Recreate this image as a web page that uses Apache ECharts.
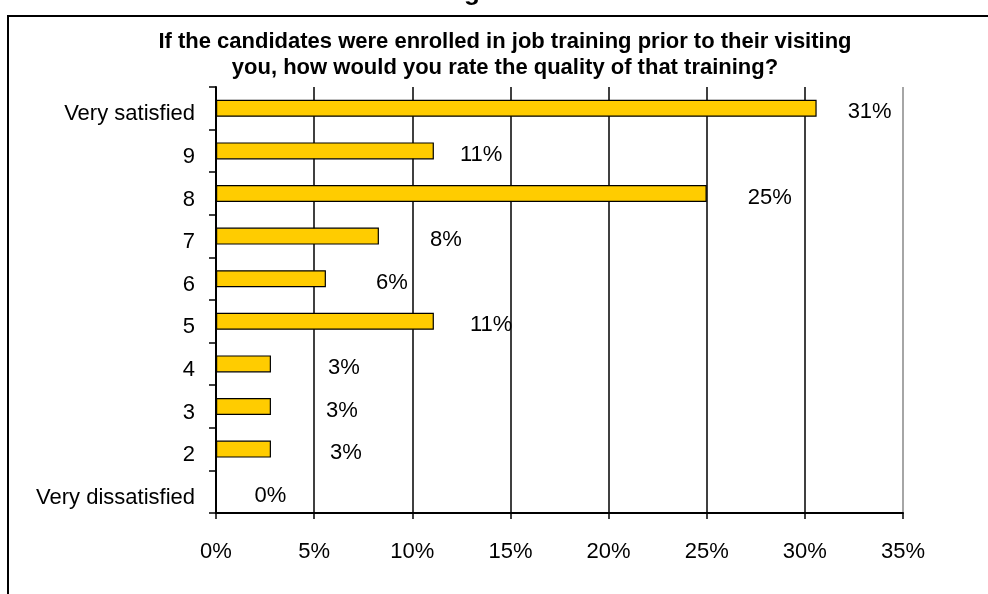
<!DOCTYPE html>
<html>
<head>
<meta charset="utf-8">
<style>
  html, body { margin: 0; padding: 0; background: #fff; }
  #chart { width: 988px; height: 594px; }
</style>
<script src="https://cdn.jsdelivr.net/npm/echarts@6/dist/echarts.min.js"></script>
</head>
<body>
<div id="chart"></div>
<script>
// Rating categories, listed top to bottom
const ratings = ['Very satisfied', '9', '8', '7', '6', '5', '4', '3', '2', 'Very dissatisfied'];
// Share of respondents (%) for each rating
const shares = [30.6, 11.1, 25.0, 8.3, 5.6, 11.1, 2.8, 2.8, 2.8, 0];
// Horizontal axis range and step (%)
const axisMax = 35;
const axisStep = 5;

// Gap (px) between each bar end and its value label, as laid out by hand
const labelGaps = [31, 26, 41, 51, 50, 36, 57, 55, 59, 38];

const titleLines = [
  'If the candidates were enrolled in job training prior to their visiting',
  'you, how would you rate the quality of that training?'
];

const FONT = '"Liberation Sans", Arial, sans-serif';

const chart = echarts.init(document.getElementById('chart'), null, { renderer: 'canvas' });

const barData = shares.map((v, i) => ({
  value: v,
  label: { distance: labelGaps[i] }
}));

chart.setOption({
  backgroundColor: '#ffffff',
  animation: false,
  title: {
    text: titleLines.join('\n'),
    left: 500,
    top: 24,
    textAlign: 'center',
    textStyle: {
      fontFamily: FONT,
      fontWeight: 'bold',
      fontSize: 22,
      lineHeight: 26,
      color: '#000'
    }
  },
  graphic: [
    {
      type: 'rect',
      shape: { x: 8, y: 16, width: 1000, height: 600 },
      style: { fill: 'none', stroke: '#000', lineWidth: 2 },
      silent: true,
      z: -1
    },
    {
      type: 'text',
      x: 472,
      y: 6,
      style: {
        text: 'g',
        font: 'bold 26px ' + FONT,
        fill: '#000',
        align: 'center',
        verticalAlign: 'bottom'
      },
      silent: true
    }
  ],
  grid: {
    left: 216,
    top: 87,
    right: 85,
    bottom: 81,
    containLabel: false
  },
  xAxis: {
    type: 'value',
    min: 0,
    max: axisMax,
    interval: axisStep,
    axisLine: { show: true, lineStyle: { color: '#000', width: 2 } },
    axisTick: { show: true, length: 6, lineStyle: { color: '#000', width: 1.5 } },
    axisLabel: {
      formatter: '{value}%',
      fontFamily: FONT,
      fontSize: 22,
      color: '#000',
      margin: 28
    },
    splitLine: {
      show: true,
      lineStyle: {
        color: ['#000', '#000', '#000', '#000', '#000', '#000', '#000', '#888'],
        width: 1.5
      }
    }
  },
  yAxis: {
    type: 'category',
    data: ratings,
    inverse: true,
    axisLine: { show: true, lineStyle: { color: '#000', width: 2 } },
    axisTick: { show: true, length: 7, lineStyle: { color: '#000', width: 1.5 } },
    axisLabel: {
      margin: 21,
      formatter: (v) => '{c|' + v + '}',
      rich: {
        c: {
          fontFamily: FONT,
          fontSize: 22,
          color: '#000',
          padding: [12, 0, 0, 0]
        }
      }
    },
    splitLine: { show: false }
  },
  series: [
    {
      type: 'bar',
      data: barData,
      barWidth: 17,
      itemStyle: {
        color: '#FFCC00',
        borderColor: '#000',
        borderWidth: 1.2
      },
      label: {
        show: true,
        position: 'right',
        offset: [0, 4],
        fontFamily: FONT,
        fontSize: 22,
        color: '#000',
        formatter: (p) => Math.round(p.value) + '%'
      }
    }
  ]
});
</script>
</body>
</html>
